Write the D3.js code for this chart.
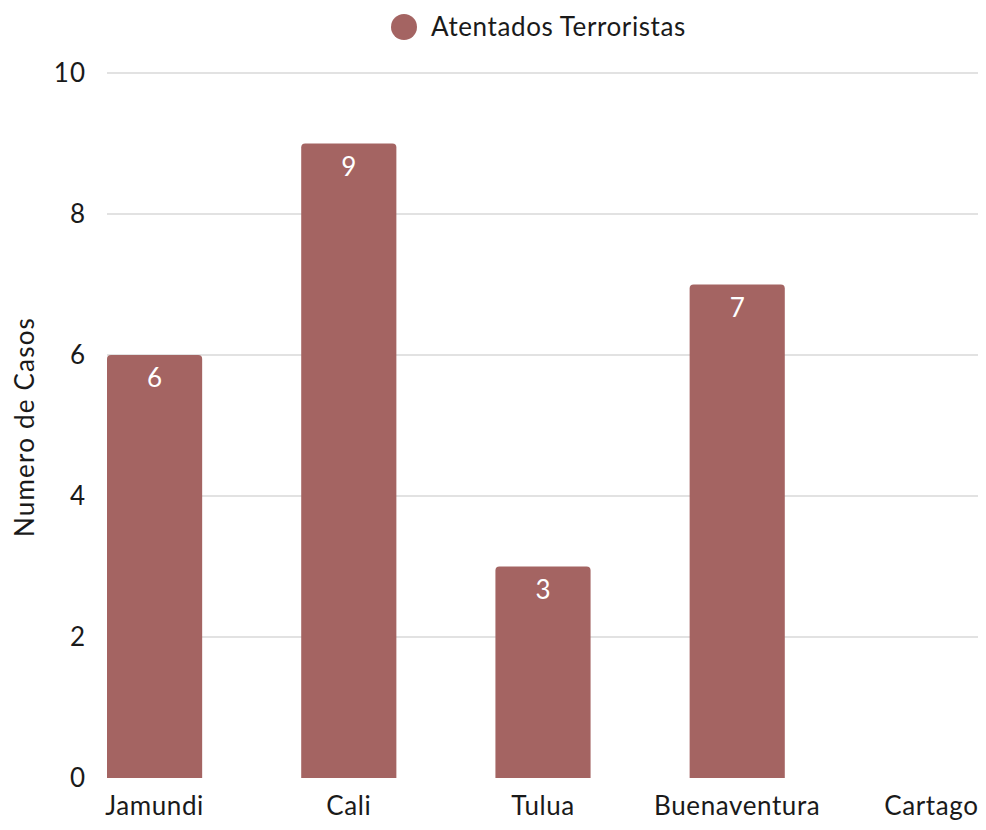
<!DOCTYPE html>
<html>
<head>
<meta charset="utf-8">
<script src="https://cdn.jsdelivr.net/npm/d3@7"></script>
<style>
  body { margin: 0; background: #fff; }
  svg text { font-family: Lato, "Noto Sans", sans-serif; fill: #1a1a1a; }
</style>
</head>
<body>
<svg id="chart" width="986" height="830"></svg>
<script>
// datos
var ciudades = ["Jamundi", "Cali", "Tulua", "Buenaventura", "Cartago"];
var casos = [6, 9, 3, 7, 0];
var yticks = [0, 2, 4, 6, 8, 10];
var serie = "Atentados Terroristas";

var color_barra = "#a46462";
var svg = d3.select("#chart");

var x = d3.scaleBand().domain(ciudades).range([107, 979]).paddingInner(0.51).paddingOuter(0);
var y = d3.scaleLinear().domain([0, 10]).range([778, 73]);

// grid
svg.append("g").selectAll("line").data(yticks.filter(function(d){ return d > 0; }))
  .enter().append("line")
  .attr("x1", 107).attr("x2", 978)
  .attr("y1", function(d){ return y(d); }).attr("y2", function(d){ return y(d); })
  .style("stroke", "#d9d9d9").style("stroke-width", 1.5);

// axe y
svg.append("g").selectAll("text").data(yticks).enter().append("text")
  .attr("x", 86).attr("y", function(d){ return y(d); })
  .attr("dy", ".35em").attr("text-anchor", "end")
  .style("font-size", "26px").style("letter-spacing", "1px")
  .text(function(d){ return d; });

svg.append("text")
  .attr("transform", "translate(34,427) rotate(-90)")
  .attr("text-anchor", "middle")
  .style("font-size", "26px").style("letter-spacing", "1.2px")
  .text("Numero de Casos");

// barres (coins haut arrondis)
function barPath(x0, y0, w, h, r) {
  if (h <= 0) return "";
  r = Math.min(r, h);
  return "M" + x0 + "," + (y0 + h) +
    "V" + (y0 + r) + "Q" + x0 + "," + y0 + " " + (x0 + r) + "," + y0 +
    "H" + (x0 + w - r) + "Q" + (x0 + w) + "," + y0 + " " + (x0 + w) + "," + (y0 + r) +
    "V" + (y0 + h) + "Z";
}

var data = ciudades.map(function(c, i){ return {ciudad: c, val: casos[i]}; });

svg.append("g").selectAll("path").data(data).enter().append("path")
  .attr("d", function(d){ return barPath(x(d.ciudad), y(d.val), x.bandwidth(), y(0) - y(d.val), 4); })
  .style("fill", color_barra);

svg.append("g").selectAll("text").data(data.filter(function(d){ return d.val > 0; }))
  .enter().append("text")
  .attr("x", function(d){ return x(d.ciudad) + x.bandwidth()/2; })
  .attr("y", function(d){ return y(d.val) + 23; })
  .attr("dy", ".35em").attr("text-anchor", "middle")
  .style("font-size", "26px").style("fill", "#ffffff")
  .text(function(d){ return d.val; });

// axe x
svg.append("g").selectAll("text").data(ciudades).enter().append("text")
  .attr("x", function(d){ return x(d) + x.bandwidth()/2; })
  .attr("y", 806).attr("dy", ".35em").attr("text-anchor", "middle")
  .style("font-size", "26px").style("letter-spacing", "0.6px")
  .text(function(d){ return d; });

// legende
svg.append("circle").attr("cx", 404).attr("cy", 27).attr("r", 13).style("fill", color_barra);
svg.append("text").attr("x", 431).attr("y", 27).attr("dy", ".35em")
  .style("font-size", "26px").style("letter-spacing", "0.6px").text(serie);
</script>
</body>
</html>
